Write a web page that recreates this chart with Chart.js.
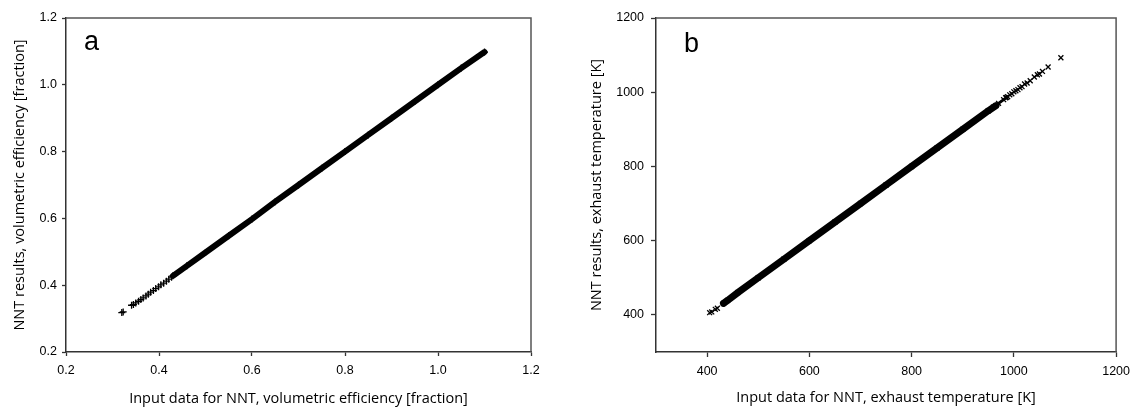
<!DOCTYPE html>
<html>
<head>
<meta charset="utf-8">
<script src="https://cdn.jsdelivr.net/npm/chart.js@4/dist/chart.umd.min.js"></script>
<style>
  body { margin: 0; background: #fff; }
  #wrap { position: relative; width: 1137px; height: 408px; }
  canvas { position: absolute; top: 0; }
  #chartA { left: 0; }
  #chartB { left: 568px; }
</style>
</head>
<body>
<div id="wrap">
  <canvas id="chartA" width="568" height="408"></canvas>
  <canvas id="chartB" width="569" height="408"></canvas>
</div>
<script>
// panel a - volumetric efficiency [fraction]
var effInputSparse = [0.320, 0.323, 0.341, 0.345, 0.350, 0.356, 0.361, 0.366, 0.372, 0.377, 0.382, 0.388, 0.393, 0.399, 0.404, 0.410, 0.416, 0.421, 0.427];
var effNntSparse   = [0.318, 0.320, 0.340, 0.342, 0.347, 0.352, 0.357, 0.362, 0.368, 0.373, 0.379, 0.384, 0.390, 0.395, 0.401, 0.406, 0.412, 0.418, 0.424];
var effInputDense  = [0.430, 0.460, 0.500, 0.550, 0.600, 0.650, 0.700, 0.750, 0.800, 0.850, 0.900, 0.950, 1.000, 1.050, 1.100];
var effNntDense    = [0.428, 0.458, 0.498, 0.548, 0.598, 0.650, 0.700, 0.750, 0.800, 0.850, 0.900, 0.950, 1.000, 1.050, 1.098];
var effTicks = [0.2, 0.4, 0.6, 0.8, 1.0, 1.2];

// panel b - exhaust temperature [K]
var tempInputSparse = [405, 409, 416, 420, 984, 988, 992, 996, 1000, 1004, 1008, 1012, 1016, 1021, 1026, 1032, 1040, 1046, 1050, 1056, 1067, 1092];
var tempNntSparse   = [406, 408, 415, 418, 985, 988, 993, 996, 1001, 1004, 1007, 1012, 1015, 1022, 1025, 1031, 1041, 1047, 1049, 1056, 1068, 1093];
var tempInputDense  = [432, 440, 460, 500, 550, 600, 650, 700, 750, 800, 850, 900, 950, 965];
var tempNntDense    = [431, 439, 460, 500, 550, 600, 650, 700, 750, 800, 850, 900, 950, 964];
var tempInputThin   = [960, 970, 980, 986];
var tempNntThin     = [960, 970, 980, 986];
var tempTicks = [400, 600, 800, 1000, 1200];

function pts(xs, ys) {
  return xs.map(function (x, i) { return { x: x, y: ys[i] }; });
}

var tickFont = { family: "'Liberation Sans', Arial, sans-serif", size: 12.5 };
var titleFont = { family: "'Open Sans', 'Noto Sans', sans-serif", size: 14.5 };

// box round the plot area + panel letter
var framePlugin = {
  id: 'frame',
  afterDraw: function (chart, args, opts) {
    var a = chart.chartArea, ctx = chart.ctx;
    ctx.save();
    ctx.strokeStyle = '#555';
    ctx.lineWidth = 1.5;
    ctx.beginPath();
    ctx.moveTo(a.left, a.top);
    ctx.lineTo(a.right, a.top);
    ctx.lineTo(a.right, a.bottom);
    ctx.stroke();
    ctx.fillStyle = '#000';
    ctx.font = "27px 'Liberation Sans', Arial, sans-serif";
    ctx.textBaseline = 'alphabetic';
    ctx.fillText(opts.letter, a.left + opts.dx, opts.baseline);
    ctx.restore();
  }
};

function axis(o) {
  return {
    type: 'linear',
    min: o.min,
    max: o.max,
    afterBuildTicks: function (s) { s.ticks = o.ticks.map(function (v) { return { value: v }; }); },
    afterFit: function (s) { if (o.w) s.width = o.w; if (o.h) s.height = o.h; },
    grid: { drawOnChartArea: false, drawTicks: true, tickLength: o.tl, tickColor: '#333', tickWidth: 1.3 },
    border: { display: true, color: '#333', width: 1.5 },
    ticks: {
      padding: o.pad, color: '#000', font: tickFont, maxRotation: 0, autoSkip: false,
      callback: function (v) { return o.dec ? v.toFixed(1) : String(v); }
    },
    title: { display: true, text: o.title, color: '#000', font: titleFont, padding: o.tpad }
  };
}

function makeChart(id, cfg) {
  return new Chart(document.getElementById(id), {
    type: 'scatter',
    data: { datasets: cfg.datasets },
    options: {
      responsive: false,
      animation: false,
      devicePixelRatio: 1,
      layout: { padding: cfg.padding },
      plugins: { legend: { display: false }, tooltip: { enabled: false }, frame: cfg.frame },
      scales: { x: cfg.x, y: cfg.y }
    },
    plugins: [framePlugin]
  });
}

function denseSet(data, style, width) {
  return {
    data: data, showLine: true, borderColor: '#000', borderWidth: width, borderCapStyle: 'round',
    pointStyle: style, pointRadius: 3.5, pointBorderWidth: 1.3, pointBorderColor: '#000', pointBackgroundColor: '#000'
  };
}
function sparseSet(data, style) {
  return {
    data: data, showLine: false,
    pointStyle: style, pointRadius: 3.5, pointBorderWidth: 1.3, pointBorderColor: '#000', pointBackgroundColor: '#000'
  };
}

makeChart('chartA', {
  datasets: [
    denseSet(pts(effInputDense, effNntDense), 'cross', 6),
    sparseSet(pts(effInputSparse, effNntSparse), 'cross')
  ],
  padding: { top: 18, right: 37, left: 0, bottom: 0 },
  frame: { letter: 'a', dx: 18, baseline: 50 },
  x: axis({ min: 0.2, max: 1.2, ticks: effTicks, h: 56, tl: 4, pad: 7, dec: true,
            title: 'Input data for NNT, volumetric efficiency [fraction]', tpad: { top: 0, bottom: 0 } }),
  y: axis({ min: 0.2, max: 1.2, ticks: effTicks, w: 66, tl: 4, pad: 5, dec: true,
            title: 'NNT results, volumetric efficiency [fraction]', tpad: { top: 11, bottom: 0 } })
});

makeChart('chartB', {
  datasets: [
    denseSet(pts(tempInputDense, tempNntDense), 'crossRot', 7),
    denseSet(pts(tempInputThin, tempNntThin), 'crossRot', 3),
    sparseSet(pts(tempInputSparse, tempNntSparse), 'crossRot')
  ],
  padding: { top: 18, right: 17, left: 0, bottom: 0 },
  frame: { letter: 'b', dx: 28, baseline: 52 },
  x: axis({ min: 300, max: 1200, ticks: tempTicks, h: 56, tl: 5, pad: 7,
            title: 'Input data for NNT, exhaust temperature [K]', tpad: { top: 0, bottom: 1 } }),
  y: axis({ min: 300, max: 1200, ticks: tempTicks, w: 88, tl: 5, pad: 7,
            title: 'NNT results, exhaust temperature [K]', tpad: { top: 20, bottom: 0 } })
});
</script>
</body>
</html>
